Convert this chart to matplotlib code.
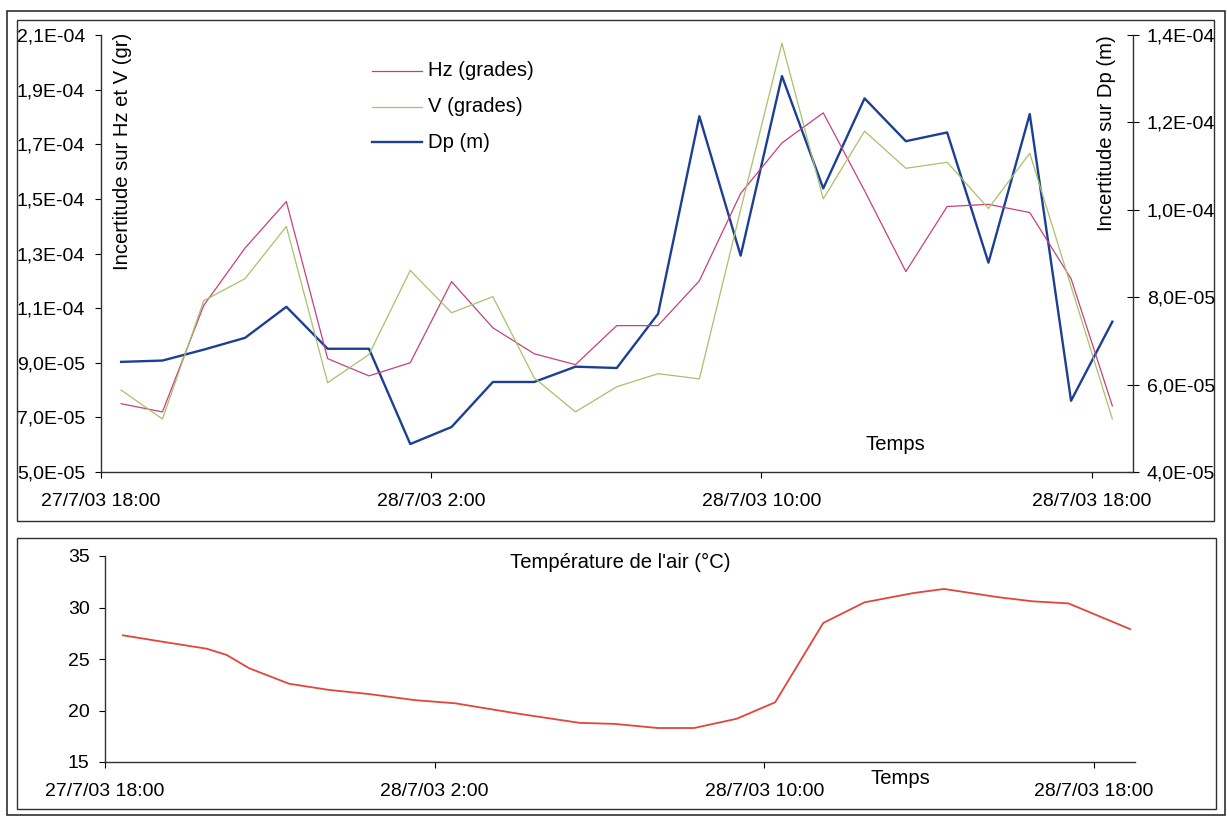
import matplotlib
matplotlib.use("Agg")
import matplotlib.pyplot as plt
import pandas as pd
from matplotlib.lines import Line2D
from matplotlib.patches import Rectangle

plt.rcParams['font.family'] = ['Liberation Sans', 'DejaVu Sans']

# ---------------- data ----------------
times_top = pd.date_range('2003-07-27 18:30', periods=25, freq='h')
hz = [7.5, 7.2, 11.1, 13.2, 14.9, 9.15, 8.52, 9.0, 11.97, 10.28, 9.33, 8.93, 10.36,
      10.36, 12.0, 15.2, 17.05, 18.15, 15.3, 12.34, 14.72, 14.8, 14.5, 12.08, 7.42]
v = [8.0, 6.94, 11.27, 12.08, 13.99, 8.27, 9.3, 12.38, 10.83, 11.42, 8.45, 7.2, 8.12,
     8.6, 8.41, 14.6, 20.7, 15.0, 17.48, 16.12, 16.34, 14.65, 16.67, 11.8, 6.94]
dp = [6.52, 6.55, 6.8, 7.07, 7.78, 6.82, 6.82, 4.64, 5.03, 6.06, 6.06, 6.41, 6.38,
      7.62, 12.14, 8.95, 13.06, 10.49, 12.55, 11.57, 11.77, 8.79, 12.19, 5.63, 7.44]
scale = 1e-5

times_temp = ['2003-07-27 18:26', '2003-07-27 19:31', '2003-07-27 20:28', '2003-07-27 20:57',
              '2003-07-27 21:30', '2003-07-27 22:28', '2003-07-27 23:26', '2003-07-28 00:24',
              '2003-07-28 01:32', '2003-07-28 02:30', '2003-07-28 04:01', '2003-07-28 04:41',
              '2003-07-28 05:31', '2003-07-28 06:22', '2003-07-28 07:25', '2003-07-28 08:18',
              '2003-07-28 09:20', '2003-07-28 10:16', '2003-07-28 11:26', '2003-07-28 12:26',
              '2003-07-28 13:37', '2003-07-28 14:22', '2003-07-28 15:41', '2003-07-28 16:31',
              '2003-07-28 17:23', '2003-07-28 18:53']
temp = [27.3, 26.6, 26.0, 25.4, 24.1, 22.6, 22.0, 21.6, 21.0, 20.7, 19.7, 19.3, 18.8,
        18.7, 18.3, 18.3, 19.2, 20.8, 28.5, 30.5, 31.4, 31.8, 31.0, 30.6, 30.4, 27.9]

x_ticks = ['2003-07-27 18:00', '2003-07-28 02:00', '2003-07-28 10:00', '2003-07-28 18:00']
x_labels = ['27/7/03 18:00', '28/7/03 2:00', '28/7/03 10:00', '28/7/03 18:00']
x_lim = ['2003-07-27 18:00', '2003-07-28 19:00']

left_ticks = [5e-5, 7e-5, 9e-5, 1.1e-4, 1.3e-4, 1.5e-4, 1.7e-4, 1.9e-4, 2.1e-4]
left_labels = ['5,0E-05', '7,0E-05', '9,0E-05', '1,1E-04', '1,3E-04', '1,5E-04',
               '1,7E-04', '1,9E-04', '2,1E-04']
right_ticks = [4e-5, 6e-5, 8e-5, 1.0e-4, 1.2e-4, 1.4e-4]
right_labels = ['4,0E-05', '6,0E-05', '8,0E-05', '1,0E-04', '1,2E-04', '1,4E-04']
temp_ticks = [15, 20, 25, 30, 35]

series_names = ['Hz (grades)', 'V (grades)', 'Dp (m)']

# ---------------- layout ----------------
W, H = 1227, 816
fig = plt.figure(figsize=(W / 100, H / 100), dpi=100)
fig.patch.set_facecolor('white')

def fx(px):
    return px / W

def fy(py):
    return 1 - py / H

C_HZ = '#c8407a'
C_V = '#a9c06c'
C_DP = '#1c3f94'
C_T = '#e2453a'
C_AX = '#303030'
FS = 14          # tick labels
FL = 14.6        # labels / legend

# frames
fig.add_artist(Rectangle((fx(7), fy(815)), fx(1225) - fx(7), fy(11) - fy(815),
                         transform=fig.transFigure, fill=False, ec=C_AX, lw=1.2))
fig.add_artist(Rectangle((fx(17), fy(521)), fx(1214) - fx(17), fy(20) - fy(521),
                         transform=fig.transFigure, fill=False, ec=C_AX, lw=1.0))
fig.add_artist(Rectangle((fx(17), fy(809)), fx(1216) - fx(17), fy(538) - fy(809),
                         transform=fig.transFigure, fill=False, ec=C_AX, lw=1.0))

tx = pd.to_datetime(times_top)
tt = pd.to_datetime(times_temp)
xt = pd.to_datetime(x_ticks)
xl = pd.to_datetime(x_lim)

# ---------------- top panel ----------------
ax = fig.add_axes([fx(100.5), fy(472), fx(1133) - fx(100.5), fy(35) - fy(472)])
ax2 = ax.twinx()
ax.set_zorder(ax2.get_zorder() + 1)
ax.patch.set_visible(False)

ax.plot(tx, [a * scale for a in hz], color=C_HZ, lw=0.9)
ax.plot(tx, [a * scale for a in v], color=C_V, lw=0.9)
ax2.plot(tx, [a * scale for a in dp], color=C_DP, lw=1.7)

ax.set_xlim(xl[0], xl[1])
ax.set_ylim(5e-5, 2.1e-4)
ax2.set_ylim(4e-5, 1.4e-4)
ax.set_yticks(left_ticks)
ax.set_yticklabels(left_labels)
ax2.set_yticks(right_ticks)
ax2.set_yticklabels(right_labels)
ax.set_xticks(xt)
ax.set_xticklabels(x_labels)

for a in (ax, ax2):
    a.spines['top'].set_visible(False)
    for s in a.spines.values():
        s.set_color(C_AX)
        s.set_linewidth(1.0)
ax.spines['right'].set_visible(False)
ax2.spines['left'].set_visible(False)
ax2.spines['bottom'].set_visible(False)

ax.tick_params(axis='y', direction='out', length=4, width=0.8, labelsize=FS, pad=7, colors='black')
ax.tick_params(axis='x', direction='out', length=4, width=0.8, labelsize=FS, pad=11, colors='black')
ax2.tick_params(axis='y', direction='inout', length=8, width=0.8, labelsize=FS, pad=6, colors='black')

fig.text(fx(122), fy(33), 'Incertitude sur Hz et V (gr)', rotation=90,
         ha='center', va='top', fontsize=FL)
fig.text(fx(1106), fy(35), 'Incertitude sur Dp (m)', rotation=90,
         ha='center', va='top', fontsize=FL)
fig.text(fx(895), fy(445), 'Temps', ha='center', va='center', fontsize=FL)

# legend
leg_rows = [71, 107, 142]
for name, col, lw, yy in zip(series_names, [C_HZ, C_V, C_DP], [0.9, 0.9, 1.7], leg_rows):
    fig.add_artist(Line2D([fx(372), fx(422)], [fy(yy), fy(yy)], color=col, lw=lw,
                          transform=fig.transFigure))
    fig.text(fx(428), fy(yy), name, ha='left', va='center', fontsize=FL)

# ---------------- bottom panel ----------------
bx = fig.add_axes([fx(105), fy(762), fx(1135) - fx(105), fy(556) - fy(762)])
bx.plot(tt, temp, color=C_T, lw=1.3)
bx.set_xlim(xl[0], xl[1])
bx.set_ylim(15, 35)
bx.set_yticks(temp_ticks)
bx.set_xticks(xt)
bx.set_xticklabels(x_labels)
bx.spines['top'].set_visible(False)
bx.spines['right'].set_visible(False)
for s in bx.spines.values():
    s.set_color(C_AX)
    s.set_linewidth(1.0)
bx.tick_params(axis='y', direction='out', length=4, width=0.8, labelsize=FS, pad=7)
bx.tick_params(axis='x', direction='out', length=4, width=0.8, labelsize=FS, pad=11)

fig.text(fx(620), fy(562), "Température de l'air (°C)", ha='center', va='center', fontsize=FL)
fig.text(fx(900), fy(778), 'Temps', ha='center', va='center', fontsize=FL)

fig.savefig('out.png', dpi=100, facecolor='white')
